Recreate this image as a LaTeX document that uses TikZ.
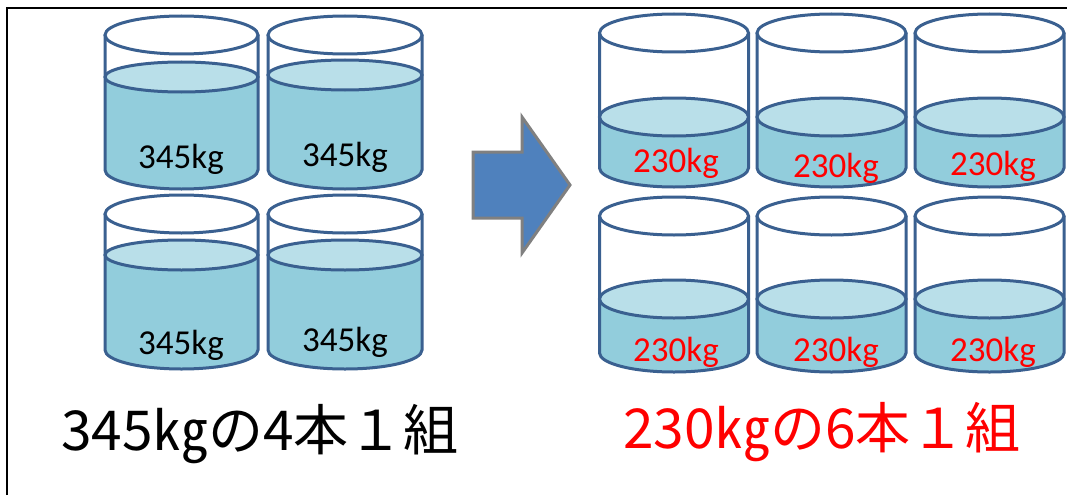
\documentclass[tikz,border=0pt]{standalone}
\usepackage{fontspec}
\setmainfont{Carlito}
\newfontfamily\jpfont{Noto Sans CJK JP}
\usepackage{tikz}

\definecolor{tankblue}{HTML}{3A6090}
\definecolor{waterblue}{HTML}{92CDDC}
\definecolor{surfblue}{HTML}{B9DFE9}
\definecolor{arrowblue}{HTML}{4F81BD}
\definecolor{arrowgray}{HTML}{808080}

% one tank: #1 cx, #2 rx, #3 top y, #4 water y, #5 bottom y, #6 rim ry, #7 surface ry
\newcommand{\tank}[7]{%
  \fill[waterblue] (#1-#2,#4) -- (#1-#2,#5)
    arc[start angle=180,end angle=0,x radius=#2,y radius=#6] -- (#1+#2,#4) -- cycle;
  \draw[tankline] (#1-#2,#3) -- (#1-#2,#5)
    arc[start angle=180,end angle=0,x radius=#2,y radius=#6] -- (#1+#2,#3);
  \draw[tankline,fill=surfblue] (#1,#4) ellipse[x radius=#2,y radius=#7];
  \draw[tankline,fill=white] (#1,#3) ellipse[x radius=#2,y radius=#6];
}

\begin{document}
\begin{tikzpicture}[x=1pt,y=-1pt,
  tankline/.style={draw=tankblue,line width=3pt},
  kglabel/.style={anchor=base,inner sep=0pt,font=\fontsize{35}{40}\selectfont},
  caption/.style={anchor=base,inner sep=0pt,font=\jpfont\fontsize{55}{60}\selectfont}]
\useasboundingbox (0,0) rectangle (1067,495);

% frame
\draw[line width=2pt] (7,495) -- (7,8) -- (1067,8);

% four full tanks
\tank{181.5}{76.5}{35}{77}{170}{19}{15}
\tank{345}{77}{35}{75}{170}{19}{15}
\tank{181.5}{76.5}{214}{255}{350}{19}{15}
\tank{345}{77}{214}{255}{350}{19}{15}
\node[kglabel] (l1) at (181,168) {345kg};
\node[kglabel] (l2) at (345,166) {345kg};
\node[kglabel] (l3) at (181,354) {345kg};
\node[kglabel] (l4) at (345,351) {345kg};

% arrow
\draw[draw=arrowgray,fill=arrowblue,line width=3pt,line join=miter]
  (473,152) -- (522,152) -- (522,117) -- (570,185) -- (522,253) -- (522,218) -- (473,218) -- cycle;

% six part-filled tanks
\foreach \cx in {674,831.5,989.5}{
  \tank{\cx}{74.5}{33}{117}{168}{19}{19}
  \tank{\cx}{74.5}{216}{299}{353}{19}{19}
}
\node[kglabel,red] (r1) at (676,172) {230kg};
\node[kglabel,red] (r2) at (836,177) {230kg};
\node[kglabel,red] (r3) at (993,175) {230kg};
\node[kglabel,red] (r4) at (676,361) {230kg};
\node[kglabel,red] (r5) at (836,361) {230kg};
\node[kglabel,red] (r6) at (993,361) {230kg};

% captions
\node[caption] (capL) at (260,450) {345㎏の4本１組};
\node[caption,red] (capR) at (822,448) {230㎏の6本１組};
\end{tikzpicture}
\end{document}
